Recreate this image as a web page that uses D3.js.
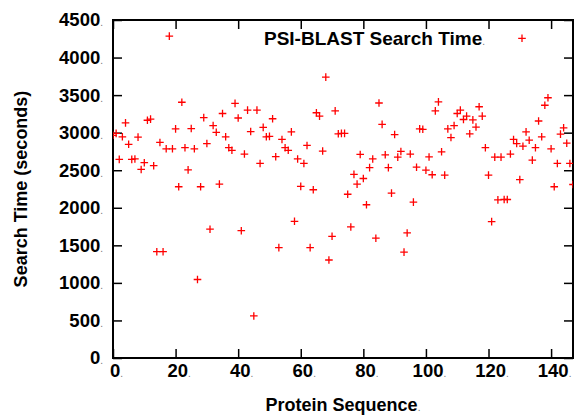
<!DOCTYPE html>
<html>
<head>
<meta charset="utf-8">
<script src="https://cdn.jsdelivr.net/npm/d3@7/dist/d3.min.js"></script>
<style type="text/css">
  body{
    background: white;
    margin: 0px;
  }
  svg text{
    font-family: 'Liberation Sans', Arial, Helvetica, sans-serif;
    font-weight: bold;
    font-size: 18px;
    fill: black;
  }
  .tick text{
    font-size: 18.5px;
  }
  .legend text{
    font-size: 19px;
  }
  .frame{
    fill: none;
    stroke: black;
    stroke-width: 2px;
  }
  .tick line{
    stroke: black;
    stroke-width: 1.5px;
  }
  .mark{
    stroke: #ff0000;
    stroke-width: 1.3px;
  }
  .dot{
    font-size: 10px !important;
    font-weight: normal;
    fill: #777 !important;
  }
</style>
</head>
<body>

<script>

// search time in seconds, one per protein sequence (index = sequence number)
var searchTime = [
  2965, 2990, 2645, 2945, 3130, 2845, 2645, 2650, 2940, 2510,
  2600, 3165, 3180, 2560, 1415, 2870, 1415, 2785, 4285, 2785,
  3050, 2280, 3405, 2800, 2505, 3055, 2785, 1045, 2280, 3200,
  2855, 1715, 3095, 3005, 2315, 3255, 2945, 2800, 2765, 3390,
  3195, 1695, 2715, 3300, 3015,  560, 3300, 2590, 3070, 2945,
  2950, 3185, 2680, 1470, 2910, 2800, 2765, 3010, 1820, 2650,
  2285, 2590, 2830, 1470, 2240, 3265, 3220, 2755, 3740, 1305,
  1620, 3290, 2985, 2990, 2990, 2180, 1745, 2445, 2315, 2710,
  2390, 2040, 2535, 2650, 1595, 3395, 3110, 2705, 2535, 2195,
  2975, 2675, 2750, 1410, 1665, 2715, 2075, 2540, 3050, 3045,
  2500, 2677, 2440, 3290, 3410, 2745, 2435, 3050, 2935, 3095,
  3255, 3300, 3175, 3220, 2985, 3170, 3075, 3345, 3220, 2800,
  2435, 1815, 2675, 2105, 2675, 2110, 2110, 2715, 2910, 2855,
  2375, 2820, 3010, 2900, 2635, 2800, 3155, 2945, 3365, 3465,
  2785, 2280, 2590, 2980, 3065, 2860, 2590, 2310
];
var sequence = searchTime.map(function(d, i) { return i; });

var xTicks = [0, 20, 40, 60, 80, 100, 120, 140];
var yTicks = [0, 500, 1000, 1500, 2000, 2500, 3000, 3500, 4000, 4500];
var xMax = 147;

var seriesName = "PSI-BLAST Search Time";
var xTitle = "Protein Sequence";
var yTitle = "Search Time (seconds)";

var W = 574, H = 416;
var margin = {top: 20, right: 1, bottom: 58, left: 113},
    width = W - margin.left - margin.right,
    height = H - margin.top - margin.bottom;

var svg = d3.select("body").append("svg")
    .attr("width", W)
    .attr("height", H);

var g = svg.append("g")
    .attr("transform", "translate(" + margin.left + "," + margin.top + ")");

var x = d3.scaleLinear().domain([0, xMax]).range([0, width]);
var y = d3.scaleLinear().domain([0, 4500]).range([height, 0]);

// adds the little trailing dot that the original labels have
function addDot(sel) {
  sel.each(function() {
    d3.select(this).append("tspan").attr("class", "dot").text(".");
  });
}

// axes, ticks pointing inwards
var xb = g.append("g")
    .attr("transform", "translate(0," + height + ")")
    .call(d3.axisBottom(x).tickValues(xTicks).tickFormat(d3.format("d")).tickSize(-9).tickPadding(6));
var yl = g.append("g")
    .call(d3.axisLeft(y).tickValues(yTicks).tickFormat(d3.format("d")).tickSize(-9).tickPadding(10));
g.append("g")
    .call(d3.axisTop(x).tickValues(xTicks).tickSize(-9).tickFormat(""));
g.append("g")
    .attr("transform", "translate(" + width + ",0)")
    .call(d3.axisRight(y).tickValues(yTicks).tickSize(-9).tickFormat(""));

g.selectAll(".domain").remove();
g.selectAll(".tick text").attr("fill", null).attr("font-family", null).attr("font-size", null);
xb.selectAll(".tick text").attr("dx", 3).call(addDot);
yl.selectAll(".tick text").call(addDot);

g.append("rect")
    .attr("class", "frame")
    .attr("width", width)
    .attr("height", height);

// points
g.append("clipPath").attr("id", "plotClip")
  .append("rect").attr("width", width).attr("height", height);

var s = 3.8;

g.append("g").attr("clip-path", "url(#plotClip)")
  .selectAll(".mark")
  .data(searchTime)
  .enter().append("path")
    .attr("class", "mark")
    .attr("d", function(d, i) {
      var px = x(sequence[i]), py = y(d);
      return "M" + (px - s) + "," + py + "H" + (px + s) + "M" + px + "," + (py - s) + "V" + (py + s);
    });

// legend
var lg = g.append("g").attr("class", "legend");
lg.append("text")
    .attr("x", 372)
    .attr("y", 25)
    .attr("text-anchor", "end")
    .text(seriesName)
    .call(addDot);
lg.append("path")
    .attr("class", "mark")
    .attr("d", "M" + (409 - s) + ",18.3H" + (409 + s) + "M409," + (18.3 - s) + "V" + (18.3 + s));

// axis titles
svg.append("text")
    .attr("x", margin.left + width / 2)
    .attr("y", 411)
    .attr("text-anchor", "middle")
    .text(xTitle)
    .call(addDot);

svg.append("text")
    .attr("transform", "translate(27," + (margin.top + height / 2) + ") rotate(-90)")
    .attr("text-anchor", "middle")
    .text(yTitle);

</script>

</body>
</html>
